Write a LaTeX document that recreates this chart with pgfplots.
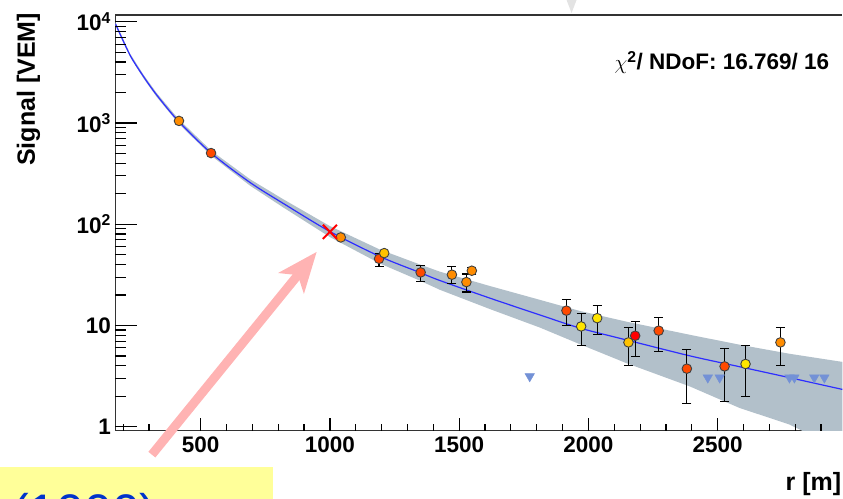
\documentclass[border=0pt]{standalone}
\usepackage{fontspec}
\setmainfont{Liberation Sans}
\usepackage{pgfplots}
\usepackage{pgfplotstable}
\pgfplotsset{compat=1.18}
\usepgfplotslibrary{fillbetween}
\usetikzlibrary{arrows.meta}

\definecolor{band}{HTML}{B2C0CA}
\definecolor{fitline}{HTML}{2E2EFF}
\definecolor{limit}{HTML}{7391D6}
\definecolor{cOr}{HTML}{FF8C00}
\definecolor{cRo}{HTML}{FF4A00}
\definecolor{cYe}{HTML}{FFE500}
\definecolor{cAm}{HTML}{FFC200}
\definecolor{cRe}{HTML}{FF0000}
\definecolor{arrowpink}{HTML}{FFB3B3}
\definecolor{note}{HTML}{FFFF99}
\definecolor{notetext}{HTML}{0033CC}

% stations: distance, signal, colour class
\pgfplotstableread{
r    S     c
416  1047  O
540  504   R
1042 74    O
1190 45.5  R
1210 51.8  A
1351 33.4  R
1472 31.7  O
1528 26.8  O
1549 34.7  O
1915 14.0  R
1972 9.78  Y
2034 11.8  Y
2155 6.8   A
2181 7.91  D
2272 8.87  R
2381 3.74  R
2527 3.94  R
2608 4.16  Y
2743 6.8   O
}\stations

\pgfplotstableread{
r    S     ep    em
1190 45.5  6.0   7.3
1351 33.4  5.7   6.4
1472 31.7  6.5   5.5
1528 26.8  5.4   5.4
1549 34.7  2.5   2.5
1915 14.0  4.2   4.1
1972 9.78  3.4   3.5
2034 11.8  3.8   3.6
2155 6.8   2.8   2.8
2181 7.91  3.05  3.0
2272 8.87  3.1   3.3
2381 3.74  2.0   2.05
2527 3.94  1.95  2.16
2608 4.16  2.14  2.17
2743 6.8   2.75  2.8
}\errs

% upper limits (silent stations)
\pgfplotstableread{
r    S
1773 3.14
2462 3.05
2508 3.05
2778 3.05
2797 3.05
2874 3.05
2913 3.05
}\silent

% fit and its band: r, fit, upper, lower
\pgfplotstableread{
r    fit    up     lo
170  9550   9890   9230
226  4700   4880   4530
278  2890   3010   2770
330  1885   1970   1800
413  1047   1100   995
540  505    533    476
691  258    278    240
820  160    176    146
1000 84.6   95.7   74.6
1193 48.0   56.2   40.9
1348 33.3   40.0   27.7
1425 27.8   34.0   22.5
1619 18.6   24.5   14.5
1812 12.7   17.9   9.53
1967 9.42   13.9   6.52
2147 7.19   10.9   4.24
2392 5.01   8.09   2.50
2585 3.91   6.45   1.53
2778 3.05   5.25   1.05
2971 2.37   4.41   0.60
3000 2.29   4.30   0.55
}\ldf

\begin{document}
\begin{tikzpicture}
\path (0pt,0pt) rectangle (843pt,-499pt);
\fill[gray!22] (567pt,0pt) -- (577pt,0pt) -- (572pt,-13pt) -- cycle;
\begin{axis}[
  at={(115.5pt,-431pt)}, anchor=south west, scale only axis,
  width=727.5pt, height=416pt,
  xmin=170, xmax=2982.6, ymode=log, ymin=0.913, ymax=11645,
  axis x line*=box, axis y line*=left,
  xtick={500,1000,1500,2000,2500},
  xticklabels={500,1000,1500,2000,2500},
  ytick={1,10,100,1000,10000},
  yticklabels={1,10,10\textsuperscript{2},10\textsuperscript{3},10\textsuperscript{4}},
  xtick pos=bottom, ytick pos=left,
  tick style={draw=none},
  axis line style={black!80, line width=1.3pt, -},
  tick label style={font=\fontsize{22.5}{22.5}\selectfont\bfseries},
  xticklabel style={yshift=-3pt},
  yticklabel style={xshift=-1pt},
]
% fit uncertainty band
\addplot[name path=up, draw=none, forget plot] table[x=r, y=up] {\ldf};
\addplot[name path=lo, draw=none, forget plot] table[x=r, y=lo] {\ldf};
\addplot[fill=band, draw=none, forget plot] fill between[of=up and lo];
% fitted LDF
\addplot[fitline, line width=1.2pt, smooth, mark=none] table[x=r, y=fit] {\ldf};
% silent stations
\addplot[only marks, mark=triangle*, mark size=5.5pt,
  mark options={rotate=180, fill=limit, draw=limit}] table[x=r, y=S] {\silent};
% error bars
\addplot[draw=none, mark=none,
  error bars/.cd, y dir=both, y explicit,
  error bar style={black, line width=1.1pt},
  error mark options={rotate=90, mark size=4.5pt, black, line width=1.1pt}]
  table[x=r, y=S, y error plus=ep, y error minus=em] {\errs};
% stations
\addplot[scatter, only marks, mark=*, mark size=4.8pt,
  scatter src=explicit symbolic,
  scatter/classes={
    O={mark=*, draw=black!75, fill=cOr},
    R={mark=*, draw=black!75, fill=cRo},
    Y={mark=*, draw=black!75, fill=cYe},
    A={mark=*, draw=black!75, fill=cAm},
    D={mark=*, draw=black!75, fill=cRe}},
  mark options={line width=0.9pt}]
  table[x=r, y=S, meta=c] {\stations};
% S(1000) marker
\addplot[only marks, mark=x, mark size=10pt, red, line width=2pt] coordinates {(1000,84)};
\end{axis}

% ROOT style inside ticks (axis: x 115.5pt + 0.258664pt per m, y 101.323pt per decade)
\begin{scope}[x=1pt, y=1pt]
\foreach \r in {200,300,...,2900}
  \draw[black, line width=1.2pt] ({115.5+(\r-170)*0.258664},-431) -- ++(0,7);
\foreach \r in {500,1000,...,2500}
  \draw[black, line width=1.2pt] ({115.5+(\r-170)*0.258664},-431) -- ++(0,13);
\foreach \v in {2,3,4,5,6,7,8,9,20,30,40,50,60,70,80,90,200,300,400,500,600,700,800,900,2000,3000,4000,5000,6000,7000,8000,9000}
  \draw[black, line width=1.2pt] (115.5,{-431+(log10(\v)+0.03952)*101.323}) -- ++(11,0);
\foreach \v in {1,10,100,1000,10000}
  \draw[black, line width=1.2pt] (115.5,{-431+(log10(\v)+0.03952)*101.323}) -- ++(22,0);
\end{scope}

\node[rotate=90, anchor=base east, inner sep=0pt, font=\fontsize{25}{25}\selectfont\bfseries]
  at (35pt,-13pt) {Signal [VEM]};
\node[anchor=base east, inner sep=0pt, font=\fontsize{25}{25}\selectfont\bfseries]
  at (842pt,-491pt) {r [m]};
\node[anchor=base west, inner sep=0pt, font=\fontsize{22.5}{22.5}\selectfont\bfseries]
  at (615pt,-70pt) {$\chi$\textsuperscript{2}/ NDoF: 16.769/ 16};

\draw[arrowpink, line width=9pt, -{Stealth[length=40pt, width=32pt, inset=10pt]}]
  (152pt,-455pt) -- (317pt,-252pt);

\fill[note] (0pt,-467pt) rectangle (273pt,-499pt);
\begin{scope}
\clip (0pt,-467pt) rectangle (273pt,-499pt);
\node[anchor=north west, inner sep=0pt, text=notetext, font=\fontsize{50}{50}\selectfont]
  at (12pt,-493pt) {(1000)};
\end{scope}
\end{tikzpicture}
\end{document}
